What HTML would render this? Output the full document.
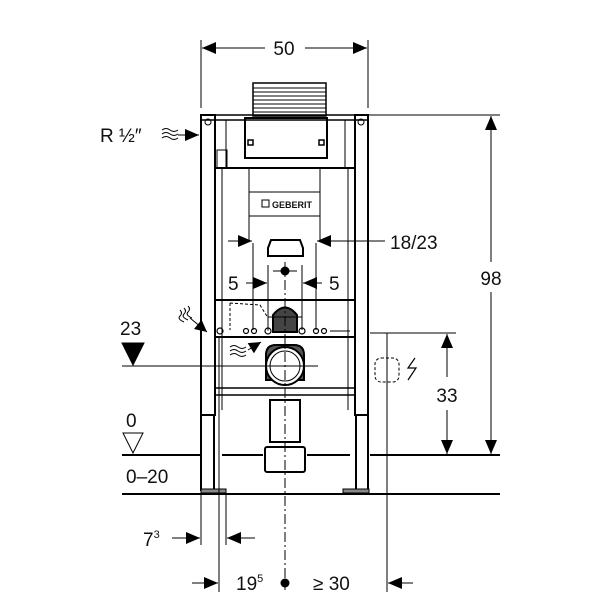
<!DOCTYPE html>
<html><head><style>
html,body{margin:0;padding:0;background:#fff;}
svg{display:block;}
text{font-family:"Liberation Sans",sans-serif;fill:#111;}
</style></head><body>
<svg width="600" height="600" viewBox="0 0 600 600" xmlns="http://www.w3.org/2000/svg">
<g stroke="#000" fill="none">
<line x1="201" y1="40" x2="201" y2="108" stroke-width="1"/>
<line x1="368" y1="40" x2="368" y2="108" stroke-width="1"/>
<line x1="202" y1="48" x2="265" y2="48" stroke-width="1"/>
<line x1="305" y1="48" x2="367" y2="48" stroke-width="1"/>
<rect x="253" y="83" width="73" height="33" stroke-width="1.5"/>
<g stroke-width="1"><line x1="253" y1="88" x2="326" y2="88"/><line x1="253" y1="92" x2="326" y2="92"/><line x1="253" y1="96" x2="326" y2="96"/><line x1="253" y1="100" x2="326" y2="100"/><line x1="253" y1="104" x2="326" y2="104"/><line x1="253" y1="108" x2="326" y2="108"/><line x1="253" y1="112" x2="326" y2="112"/></g>
<rect x="201" y="115" width="167" height="5" stroke-width="1.5"/>
<rect x="201" y="115" width="14" height="300" stroke-width="2"/>
<rect x="355" y="115" width="13" height="300" stroke-width="2"/>
<circle cx="208" cy="122" r="3" stroke-width="1"/><circle cx="361" cy="122" r="3" stroke-width="1"/>
<rect x="245" y="118" width="82" height="40" stroke-width="2"/>
<rect x="248" y="140" width="5" height="5" stroke-width="1.5"/><rect x="319" y="140" width="5" height="5" stroke-width="1.5"/>
<line x1="215" y1="168" x2="355" y2="168" stroke-width="2"/>
<line x1="226" y1="120" x2="226" y2="168" stroke-width="1"/><line x1="345" y1="120" x2="345" y2="168" stroke-width="1"/>
<rect x="217" y="150" width="10" height="18" stroke-width="1"/>
<line x1="249" y1="168" x2="249" y2="240" stroke-width="1"/><line x1="320" y1="168" x2="320" y2="240" stroke-width="1"/>
<line x1="249" y1="192" x2="320" y2="192" stroke-width="1"/><line x1="249" y1="216" x2="320" y2="216" stroke-width="1"/>
<line x1="222" y1="168" x2="222" y2="410" stroke-width="1"/><line x1="348" y1="168" x2="348" y2="410" stroke-width="1"/>
<line x1="215" y1="300" x2="355" y2="300" stroke-width="2"/>
<line x1="215" y1="337" x2="355" y2="337" stroke-width="2"/>
<line x1="215" y1="388" x2="355" y2="388" stroke-width="1.5"/>
<line x1="215" y1="395" x2="355" y2="395" stroke-width="1.5"/>
<rect x="201" y="415" width="13" height="75" stroke-width="2"/>
<rect x="356" y="415" width="12" height="75" stroke-width="2"/>
<rect x="201" y="489" width="25" height="4" fill="#888" stroke-width="1"/>
<rect x="343" y="489" width="26" height="4" fill="#888" stroke-width="1"/>
<path d="M268,248 L271,240 L300,240 L303,248 L303,256 L268,256 Z" stroke-width="2"/>
<path d="M230,303 L260,305 L268,318 L268,332 M230,303 L230,330" stroke-width="1" stroke-dasharray="3,2"/>
<path d="M273,315 Q285,300 297,315 L297,332 L273,332 Z" stroke-width="2" fill="#444"/>
<g stroke-width="1.2"><circle cx="220" cy="331" r="3"/><circle cx="246" cy="331" r="2.5"/><circle cx="254" cy="331" r="2.5"/><circle cx="268" cy="331" r="3"/><circle cx="302" cy="331" r="3"/><circle cx="316" cy="331" r="2.5"/><circle cx="324" cy="331" r="2.5"/></g>
<line x1="330" y1="331" x2="350" y2="331" stroke-width="1"/>
<path d="M266,355 Q266,345 276,345 L294,345 Q304,345 304,355 L304,380 L266,380 Z" stroke-width="2" fill="#555"/>
<circle cx="285" cy="366" r="19" stroke-width="2" fill="#fff"/>
<circle cx="285" cy="366" r="15" stroke-width="1"/>
<rect x="270" y="400" width="30" height="42" stroke-width="2"/>
<rect x="265" y="447" width="40" height="25" rx="2" stroke-width="2"/>
<line x1="285" y1="262" x2="285" y2="590" stroke-width="1" stroke-dasharray="10,3,2,3"/>
<line x1="262" y1="366" x2="318" y2="366" stroke-width="1"/>
<line x1="268" y1="317" x2="302" y2="317" stroke-width="1"/>
<line x1="273" y1="271" x2="297" y2="271" stroke-width="1"/>
<circle cx="285" cy="271" r="4" fill="#000"/>
<line x1="253" y1="243" x2="253" y2="330" stroke-width="1"/><line x1="316" y1="243" x2="316" y2="330" stroke-width="1"/>
<line x1="268" y1="265" x2="268" y2="330" stroke-width="1"/><line x1="302" y1="265" x2="302" y2="330" stroke-width="1"/>
<line x1="246" y1="283" x2="267" y2="283" stroke-width="1"/>
<line x1="322" y1="283" x2="303" y2="283" stroke-width="1"/>
<line x1="228" y1="241" x2="252" y2="241" stroke-width="1"/>
<line x1="385" y1="241" x2="317" y2="241" stroke-width="1"/>
<line x1="122" y1="455" x2="200" y2="455" stroke-width="2"/>
<line x1="222" y1="455" x2="263" y2="455" stroke-width="2"/>
<line x1="307" y1="455" x2="350" y2="455" stroke-width="2"/>
<line x1="370" y1="455" x2="500" y2="455" stroke-width="2"/>
<line x1="122" y1="494" x2="500" y2="494" stroke-width="2"/>
<line x1="122" y1="366" x2="262" y2="366" stroke-width="1"/>
<line x1="369" y1="115" x2="500" y2="115" stroke-width="1"/>
<line x1="491" y1="262" x2="491" y2="116" stroke-width="1"/>
<line x1="491" y1="292" x2="491" y2="454" stroke-width="1"/>
<line x1="370" y1="333" x2="456" y2="333" stroke-width="1"/>
<line x1="447" y1="377" x2="447" y2="334" stroke-width="1"/>
<line x1="447" y1="410" x2="447" y2="454" stroke-width="1"/>
<line x1="387" y1="333" x2="387" y2="592" stroke-width="1"/>
<rect x="375" y="358" width="24" height="24" rx="6" stroke-width="1" stroke-dasharray="3,2"/>
<path d="M415,358 L408,368 L416,368 L408,380" stroke-width="1.2"/>
<line x1="219" y1="337" x2="219" y2="592" stroke-width="1"/>
<line x1="201" y1="494" x2="201" y2="545" stroke-width="1"/>
<line x1="226" y1="494" x2="226" y2="545" stroke-width="1"/>
<line x1="172" y1="538" x2="200" y2="538" stroke-width="1"/>
<line x1="255" y1="538" x2="227" y2="538" stroke-width="1"/>
<line x1="192" y1="583" x2="218" y2="583" stroke-width="1"/>
<line x1="413" y1="583" x2="388" y2="583" stroke-width="1"/>
<circle cx="285" cy="583" r="4" fill="#000"/>
<path d="M162,130 q4,-3 8,0 t8,0 M162,134 q4,-3 8,0 t8,0 M162,138 q4,-3 8,0 t8,0" stroke-width="1"/>
<line x1="178" y1="135" x2="199" y2="135" stroke-width="1"/>
<path d="M180,310 q3,3 0,6 t4,6 M184,308 q3,3 0,6 t4,6 M188,306 q3,3 0,6 t4,6" stroke-width="1"/>
<line x1="190" y1="318" x2="207" y2="332" stroke-width="1"/>
<path d="M230,355 q4,-3 8,0 t8,0 M230,351 q4,-3 8,0 t8,0 M230,347 q4,-3 8,0 t8,0" stroke-width="1"/>
<line x1="248" y1="350" x2="261" y2="342" stroke-width="1"/>
<path d="M133,365 L122,343 L144,343 Z" fill="#000" stroke-width="1"/>
<path d="M133,453 L123,433 L143,433 Z" fill="#fff" stroke-width="1"/>
</g>
<g fill="#000">
<polygon points="202,48 216,42 216,54"/>
<polygon points="367,48 353,42 353,54"/>
<polygon points="252,241 238,235 238,247"/>
<polygon points="317,241 331,235 331,247"/>
<polygon points="267,283 253,277 253,289"/>
<polygon points="303,283 317,277 317,289"/>
<polygon points="491,116 485,130 497,130"/>
<polygon points="491,454 485,440 497,440"/>
<polygon points="447,334 441,348 453,348"/>
<polygon points="447,454 441,440 453,440"/>
<polygon points="200,538 186,532 186,544"/>
<polygon points="227,538 241,532 241,544"/>
<polygon points="218,583 204,577 204,589"/>
<polygon points="388,583 402,577 402,589"/>
<polygon points="199,135 185,129 185,141"/>
<polygon points="207,332 194,329 201.6,319.8"/>
<polygon points="261,342 253.9,353.3 247.7,343.1"/>
</g>
<rect x="256" y="198" width="58" height="12" fill="#fff"/>
<rect x="262" y="200" width="7" height="7" fill="none" stroke="#000"/>
<text x="272" y="208" font-size="9" font-weight="bold">GEBERIT</text>
<text x="284" y="55" font-size="19" text-anchor="middle">50</text>
<text x="100" y="142" font-size="19">R ½″</text>
<text x="390" y="249" font-size="19">18/23</text>
<text x="228" y="290" font-size="19">5</text>
<text x="329" y="290" font-size="19">5</text>
<text x="491" y="285" font-size="19" text-anchor="middle">98</text>
<text x="447" y="402" font-size="19" text-anchor="middle">33</text>
<text x="120" y="335" font-size="19">23</text>
<text x="126" y="427" font-size="19">0</text>
<text x="126" y="483" font-size="19">0–20</text>
<text x="143" y="546" font-size="19">7<tspan font-size="11" dy="-8">3</tspan></text>
<text x="236" y="590" font-size="19">19<tspan font-size="11" dy="-8">5</tspan></text>
<text x="313" y="590" font-size="19">≥ 30</text>
</svg>
</body></html>
